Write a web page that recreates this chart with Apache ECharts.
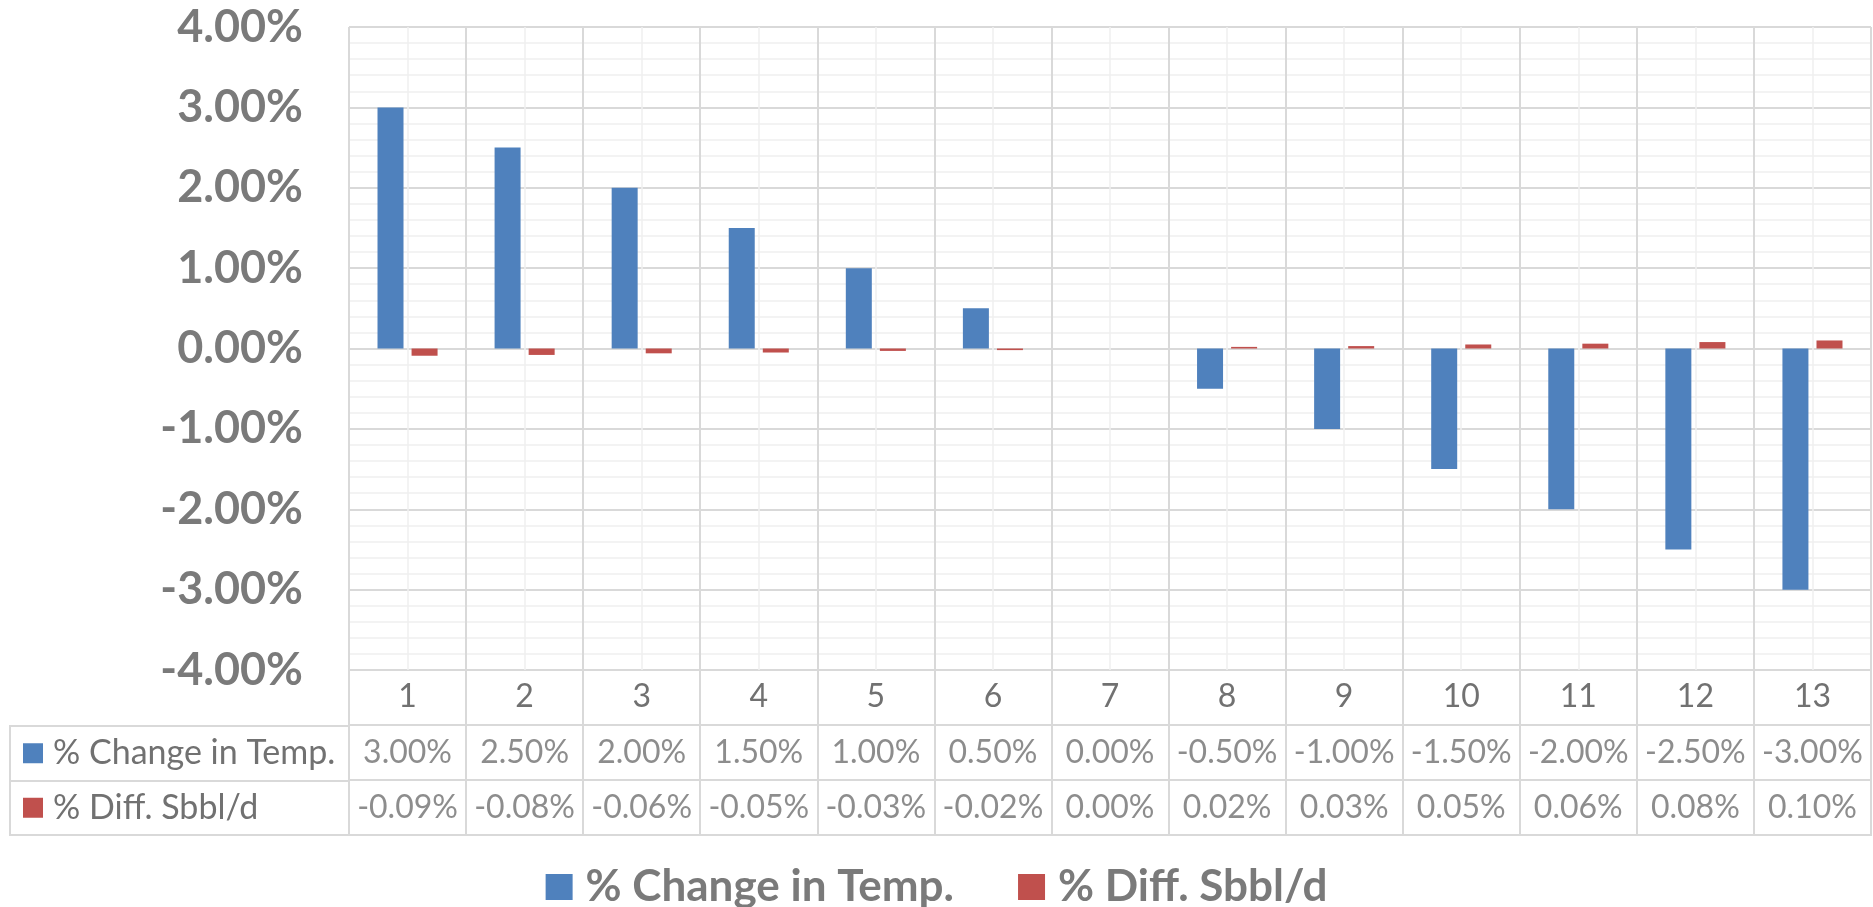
<!DOCTYPE html>
<html>
<head>
<meta charset="utf-8">
<title>% Change in Temp. vs % Diff. Sbbl/d</title>
<script src="https://cdn.jsdelivr.net/npm/echarts@6/dist/echarts.min.js"></script>
<style>
  html, body { margin: 0; padding: 0; background: #ffffff; }
  #chart { width: 1873px; height: 907px; }
</style>
</head>
<body>
<div id="chart"></div>
<script>
// Case numbers along the category axis
const categories = ['1', '2', '3', '4', '5', '6', '7', '8', '9', '10', '11', '12', '13'];

// Series names (legend and data-table row headers)
const seriesNames = ['% Change in Temp.', '% Diff. Sbbl/d'];

// Values in percent
const tempChange = [3.00, 2.50, 2.00, 1.50, 1.00, 0.50, 0.00, -0.50, -1.00, -1.50, -2.00, -2.50, -3.00];
const diffSbbl = [-0.09, -0.08, -0.06, -0.05, -0.03, -0.02, 0.00, 0.02, 0.03, 0.05, 0.06, 0.08, 0.10];

// Value axis range (percent)
const yMin = -4;
const yMax = 4;
const yStep = 1;

const seriesColors = ['#4F81BD', '#C0504D'];
const textGray = '#7a7a7a';
const cellGray = '#717171';
const majorLine = '#d9d9d9';
const minorLine = '#f0f0f0';
const font = 'Lato';

const pct = v => v.toFixed(2) + '%';

// Plot area and data table geometry
const plotLeft = 349, plotRight = 1871, plotTop = 27, plotBottom = 670;
const tableTop = 670, tableBottom = 835, headerLeft = 10, headerTop = 726;

const chart = echarts.init(document.getElementById('chart'), null, { renderer: 'canvas' });

const tableRows = ['', seriesNames[0], seriesNames[1]];

const option = {
  backgroundColor: '#ffffff',
  animation: false,
  textStyle: { fontFamily: font },
  grid: [
    // main plot
    { left: plotLeft, top: plotTop, width: plotRight - plotLeft, height: plotBottom - plotTop },
    // data table value cells (category-label row + two series rows)
    { left: plotLeft, top: tableTop, width: plotRight - plotLeft, height: tableBottom - tableTop,
      show: true, borderColor: majorLine, borderWidth: 2, backgroundColor: 'transparent' },
    // data table row headers
    { left: headerLeft, top: headerTop, width: plotLeft - headerLeft, height: tableBottom - headerTop,
      show: true, borderColor: majorLine, borderWidth: 2, backgroundColor: 'transparent' }
  ],
  xAxis: [
    {
      type: 'category', gridIndex: 0, data: categories, boundaryGap: true,
      axisLine: { show: false }, axisTick: { show: false }, splitLine: { show: false },
      axisLabel: { color: cellGray, fontSize: 32, fontFamily: font, margin: 11, lineHeight: 32 }
    },
    {
      // vertical gridlines of the plot: category boundaries and centres
      type: 'value', gridIndex: 0, min: 0, max: categories.length, interval: 1,
      axisLine: { show: false }, axisTick: { show: false }, axisLabel: { show: false },
      splitLine: { show: true, lineStyle: { color: majorLine, width: 2 } },
      minorTick: { show: false, splitNumber: 2 },
      minorSplitLine: { show: true, lineStyle: { color: minorLine, width: 1.5 } }
    },
    {
      type: 'category', gridIndex: 1, data: categories, boundaryGap: true,
      axisLine: { show: false }, axisTick: { show: false }, axisLabel: { show: false },
      splitLine: { show: true, lineStyle: { color: majorLine, width: 2 } }
    },
    {
      type: 'value', gridIndex: 2, min: 0, max: 1,
      axisLine: { show: false }, axisTick: { show: false }, axisLabel: { show: false },
      splitLine: { show: false }
    }
  ],
  yAxis: [
    {
      type: 'value', gridIndex: 0, min: yMin, max: yMax, interval: yStep,
      axisLine: { show: false }, axisTick: { show: false },
      axisLabel: { color: textGray, fontSize: 45, fontWeight: 'bold', fontFamily: font, margin: 46, formatter: v => pct(v) },
      splitLine: { show: true, lineStyle: { color: majorLine, width: 2 } },
      minorTick: { show: false, splitNumber: 5 },
      minorSplitLine: { show: true, lineStyle: { color: minorLine, width: 1.5 } }
    },
    {
      type: 'category', gridIndex: 1, data: tableRows, inverse: true, boundaryGap: true,
      axisLine: { show: false }, axisTick: { show: false }, axisLabel: { show: false },
      splitLine: { show: true, lineStyle: { color: majorLine, width: 2 } }
    },
    {
      type: 'category', gridIndex: 2, data: seriesNames, inverse: true, boundaryGap: true,
      axisLine: { show: false }, axisTick: { show: false },
      splitLine: { show: true, lineStyle: { color: majorLine, width: 2 } },
      axisLabel: {
        inside: true, margin: 13, color: cellGray, fontSize: 34, fontFamily: font,
        formatter: (v, i) => '{s' + i + '|}{t|' + v + '}',
        rich: {
          s0: { width: 20, height: 20, backgroundColor: seriesColors[0] },
          s1: { width: 20, height: 20, backgroundColor: seriesColors[1] },
          t: { color: cellGray, fontSize: 34, fontFamily: font, padding: [0, 0, 0, 10] }
        }
      }
    }
  ],
  legend: {
    data: seriesNames,
    left: 'center', top: 860,
    icon: 'rect', itemWidth: 27, itemHeight: 26, itemGap: 64,
    textStyle: { color: textGray, fontSize: 44, fontWeight: 'bold', fontFamily: font, lineHeight: 44, padding: [0, 0, 0, 8] }
  },
  series: [
    {
      name: seriesNames[0], type: 'bar', xAxisIndex: 0, yAxisIndex: 0,
      data: tempChange, barWidth: 26, barGap: '31%',
      itemStyle: { color: seriesColors[0] }
    },
    {
      name: seriesNames[1], type: 'bar', xAxisIndex: 0, yAxisIndex: 0,
      data: diffSbbl, barWidth: 26, barGap: '31%',
      itemStyle: { color: seriesColors[1] }
    },
    // data table cells
    ...[tempChange, diffSbbl].map((arr, r) => ({
      name: 'table-' + r, type: 'scatter', xAxisIndex: 2, yAxisIndex: 1,
      symbolSize: 1, itemStyle: { color: 'rgba(0,0,0,0)' }, silent: true,
      data: arr.map((v, i) => [i, r + 1, v]),
      label: {
        show: true, position: 'inside', color: cellGray, fontSize: 32, fontFamily: font,
        formatter: p => pct(p.value[2])
      }
    }))
  ]
};

chart.setOption(option);
</script>
</body>
</html>
